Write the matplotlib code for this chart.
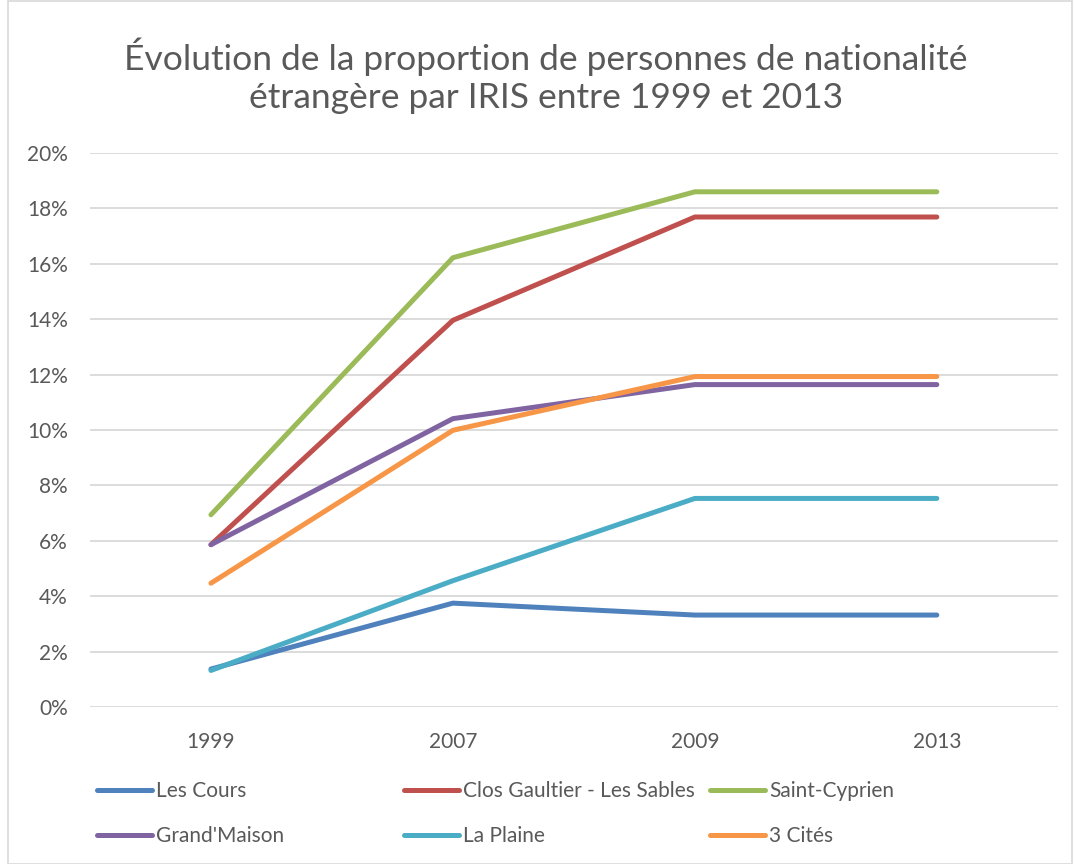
import matplotlib.pyplot as plt
from matplotlib.patches import Rectangle

# Data (share of foreign nationals per IRIS)
years = ['1999', '2007', '2009', '2013']
les_cours = [0.0137, 0.0375, 0.0332, 0.0332]
clos_gaultier = [0.0586, 0.1396, 0.1769, 0.1769]
saint_cyprien = [0.0694, 0.1622, 0.1860, 0.1860]
grand_maison = [0.0586, 0.1041, 0.1164, 0.1164]
la_plaine = [0.0132, 0.0456, 0.0753, 0.0753]
trois_cites = [0.0447, 0.0999, 0.1193, 0.1193]

series = [
    ('Les Cours', les_cours, '#4F81BD'),
    ('Clos Gaultier - Les Sables', clos_gaultier, '#C0504D'),
    ('Saint-Cyprien', saint_cyprien, '#9BBB59'),
    ("Grand'Maison", grand_maison, '#8064A2'),
    ('La Plaine', la_plaine, '#4BACC6'),
    ('3 Cités', trois_cites, '#F79646'),
]

plt.rcParams['font.family'] = ['Lato', 'DejaVu Sans']
gray = '#595959'

fig = plt.figure(figsize=(10.75, 8.64), dpi=100)
ax = fig.add_axes([0.0837, 0.1817, 0.9003, 0.6412])

x = list(range(len(years)))
handles = {}
for name, vals, col in series:
    ln, = ax.plot(x, vals, color=col, linewidth=3.6, solid_capstyle='round',
                  solid_joinstyle='round', label=name, zorder=3)
    handles[name] = ln

ax.set_xlim(-0.5, len(years) - 0.5)
ax.set_ylim(0, 0.2)
ax.set_yticks([i / 100 for i in range(0, 21, 2)])
ax.set_yticklabels([f'{i}%' for i in range(0, 21, 2)])
ax.set_xticks(x)
ax.set_xticklabels(years)
ax.tick_params(length=0, labelsize=15, labelcolor=gray)
ax.tick_params(axis='y', pad=16)
ax.tick_params(axis='x', pad=18)
ax.grid(axis='y', color='#D9D9D9', linewidth=1.3)
ax.set_axisbelow(True)
for s in ax.spines.values():
    s.set_visible(False)

fig.text(0.508, 0.912, 'Évolution de la proportion de personnes de nationalité\nétrangère par IRIS entre 1999 et 2013',
         ha='center', va='center', fontsize=25.5, color=gray, linespacing=1.22)

# legend laid out like Excel: three columns, row-wise order
columns = [
    (['Les Cours', "Grand'Maison"], 0.0902),
    (['Clos Gaultier - Les Sables', 'La Plaine'], 0.3758),
    (['Saint-Cyprien', '3 Cités'], 0.6605),
]
for names, xpos in columns:
    leg = fig.legend([handles[n] for n in names], names, loc='upper left',
                     bbox_to_anchor=(xpos, 0.096), frameon=False, fontsize=15,
                     handlelength=2.65, handletextpad=0.2, labelspacing=1.2,
                     borderaxespad=0, borderpad=0)
    for t in leg.get_texts():
        t.set_color(gray)

fig.patches.append(Rectangle((0.007, 0.0), 0.99, 0.999, transform=fig.transFigure,
                             fill=False, edgecolor='#D9D9D9', linewidth=1.2))

fig.savefig('out.png', dpi=100)
